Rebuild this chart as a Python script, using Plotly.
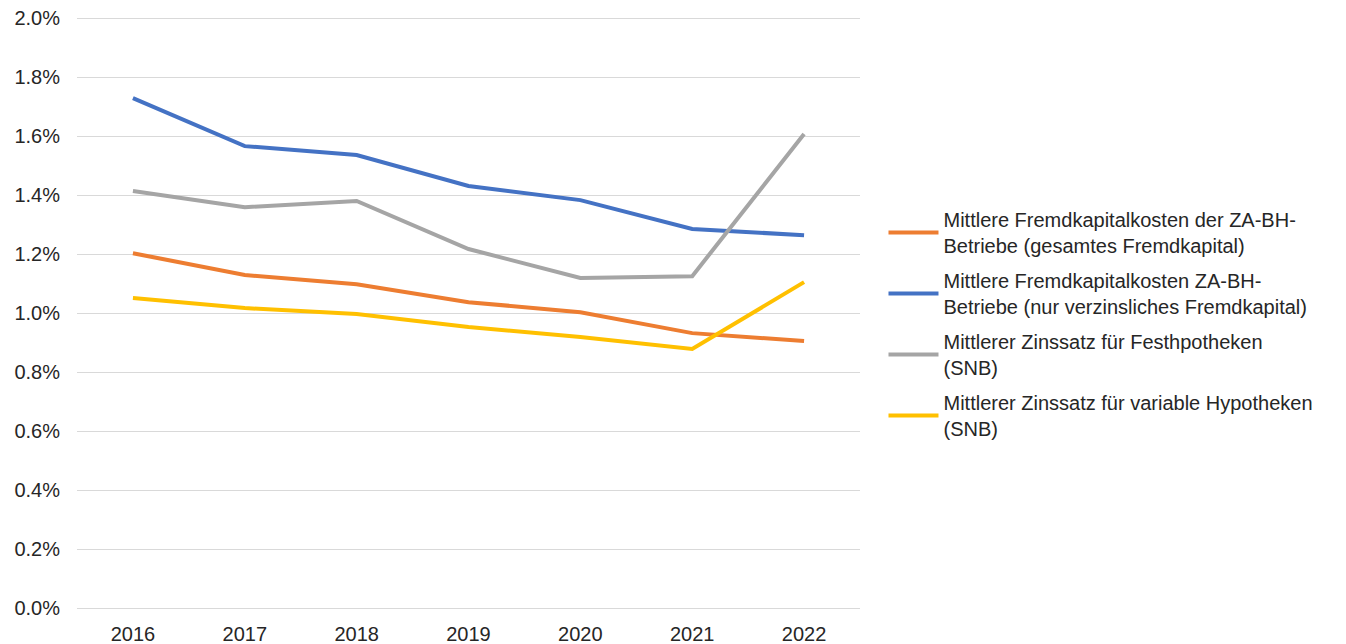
import plotly.graph_objects as go

years = ["2016", "2017", "2018", "2019", "2020", "2021", "2022"]

fk_gesamt = [1.203, 1.129, 1.098, 1.037, 1.003, 0.932, 0.905]
fk_verzinslich = [1.729, 1.566, 1.536, 1.431, 1.383, 1.285, 1.264]
zins_fest = [1.414, 1.359, 1.380, 1.217, 1.119, 1.125, 1.607]
zins_variabel = [1.051, 1.017, 0.997, 0.953, 0.919, 0.878, 1.105]

names = [
    "Mittlere Fremdkapitalkosten der ZA-BH-<br>Betriebe (gesamtes Fremdkapital)",
    "Mittlere Fremdkapitalkosten ZA-BH-<br>Betriebe (nur verzinsliches Fremdkapital)",
    "Mittlerer Zinssatz für Festhpotheken<br>(SNB)",
    "Mittlerer Zinssatz für variable Hypotheken<br>(SNB)",
]
colors = ["#ED7D31", "#4472C4", "#A5A5A5", "#FFC000"]
series = [fk_gesamt, fk_verzinslich, zins_fest, zins_variabel]

fig = go.Figure()
for i, (name, col, vals) in enumerate(zip(names, colors, series)):
    fig.add_trace(go.Scatter(
        x=years, y=[v / 100 for v in vals], mode="lines", name=name,
        legendgroup=f"g{i}",
        line=dict(color=col, width=4),
    ))

txt = "#262626"
font = dict(family="Liberation Sans, Arial, sans-serif", size=20, color=txt)

fig.update_layout(
    width=1346, height=644,
    margin=dict(l=77, r=486, t=14, b=36, autoexpand=False),
    paper_bgcolor="white", plot_bgcolor="white",
    font=font,
    showlegend=True,
    legend=dict(x=1.03, xanchor="left", y=0.478, yanchor="middle",
                font=dict(size=20, color=txt), tracegroupgap=6,
                itemwidth=50, bgcolor="rgba(0,0,0,0)"),
    xaxis=dict(type="category", range=[-0.5, 6.5], showgrid=False,
               showline=False, ticks="", ticklabelstandoff=12, automargin=False,
               tickfont=dict(size=20, color=txt)),
    yaxis=dict(range=[0, 0.02014], dtick=0.002, tickformat=".1%",
               showgrid=True, gridcolor="#D9D9D9", gridwidth=1,
               zeroline=True, zerolinecolor="#D9D9D9", zerolinewidth=1,
               showline=False, ticks="", ticklabelstandoff=16, automargin=False,
               tickfont=dict(size=20, color=txt)),
)

fig.write_html("out.html")
